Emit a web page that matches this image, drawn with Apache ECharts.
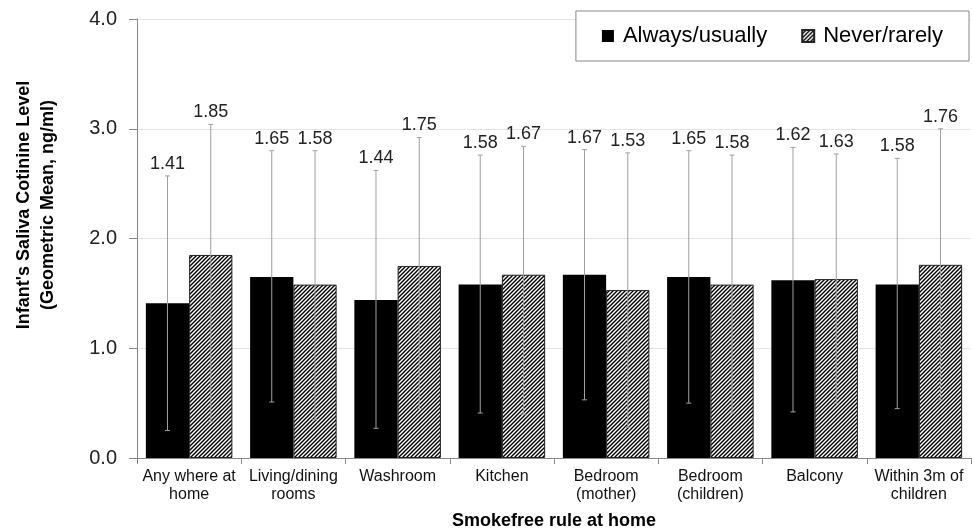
<!DOCTYPE html>
<html>
<head>
<meta charset="utf-8">
<script src="https://cdn.jsdelivr.net/npm/echarts@6/dist/echarts.min.js"></script>
<style>
html,body{margin:0;padding:0;background:#fff;}
#chart{width:972px;height:531px;}
</style>
</head>
<body>
<div id="chart"></div>
<script>
var categories = ['Any where at\nhome', 'Living/dining\nrooms', 'Washroom', 'Kitchen', 'Bedroom\n(mother)', 'Bedroom\n(children)', 'Balcony', 'Within 3m of\nchildren'];
var alwaysMean  = [1.41, 1.65, 1.44, 1.58, 1.67, 1.65, 1.62, 1.58];
var alwaysUpper = [2.57, 2.80, 2.62, 2.76, 2.81, 2.80, 2.83, 2.73];
var alwaysLower = [0.25, 0.51, 0.27, 0.41, 0.53, 0.50, 0.42, 0.45];
var neverMean   = [1.85, 1.58, 1.75, 1.67, 1.53, 1.58, 1.63, 1.76];
var neverUpper  = [3.04, 2.80, 2.92, 2.84, 2.78, 2.76, 2.77, 3.00];
var neverLower  = [0.33, 0.35, 0.45, 0.40, 0.28, 0.41, 0.50, 0.53];
var yTicks = [0, 1, 2, 3, 4];

var FONT = '"Liberation Sans", Arial, sans-serif';

function makeHatch() {
  var s = 4;
  var c = document.createElement('canvas');
  c.width = s; c.height = s;
  var ctx = c.getContext('2d');
  ctx.fillStyle = '#fff';
  ctx.fillRect(0, 0, s, s);
  ctx.strokeStyle = '#000';
  ctx.lineWidth = 1.4;
  ctx.beginPath();
  ctx.moveTo(-1, s + 1); ctx.lineTo(s + 1, -1);
  ctx.moveTo(-1, 1); ctx.lineTo(1, -1);
  ctx.moveTo(s - 1, s + 1); ctx.lineTo(s + 1, s - 1);
  ctx.stroke();
  return c;
}
var hatch = { image: makeHatch(), repeat: 'repeat' };

var GAP = 0.17;

function errData(means, up, lo) {
  return means.map(function (m, i) { return [i, m, up[i], lo[i]]; });
}

function makeErr(side) {
  return function (params, api) {
    var idx = api.value(0);
    var band = api.size([1, 0])[0];
    var bw = band * (1 - GAP) / 2;
    var c = api.coord([idx, api.value(1)]);
    var x = c[0] + side * bw / 2;
    var yTop = api.coord([idx, api.value(2)])[1];
    var yBot = api.coord([idx, api.value(3)])[1];
    var cap = 2.5;
    var st = { stroke: '#a0a0a0', lineWidth: 1 };
    return {
      type: 'group',
      children: [
        { type: 'line', shape: { x1: x, y1: yTop, x2: x, y2: yBot }, style: st },
        { type: 'line', shape: { x1: x - cap, y1: yTop, x2: x + cap, y2: yTop }, style: st },
        { type: 'line', shape: { x1: x - cap, y1: yBot, x2: x + cap, y2: yBot }, style: st },
        { type: 'text', style: { text: api.value(1).toFixed(2), x: x, y: yTop - 12, textAlign: 'center', textVerticalAlign: 'middle', font: '18px ' + FONT, fill: '#222' } }
      ]
    };
  };
}

var chart = echarts.init(document.getElementById('chart'));
chart.setOption({
  animation: false,
  backgroundColor: '#fff',
  grid: { left: 137, right: 1, top: 19, bottom: 73, containLabel: false, outerBoundsMode: 'none' },
  legend: {
    data: ['Always/usually', 'Never/rarely'],
    right: 3, top: 11,
    padding: [14, 26, 14, 26],
    itemGap: 34,
    itemWidth: 12, itemHeight: 12,
    icon: 'rect',
    borderColor: '#888', borderWidth: 1,
    backgroundColor: '#fff',
    textStyle: { fontSize: 22, fontFamily: FONT, color: '#000', padding: [0, 0, 0, 4] },
    z: 10
  },
  xAxis: {
    type: 'category',
    data: categories,
    name: 'Smokefree rule at home',
    nameLocation: 'middle',
    nameGap: 54,
    nameTextStyle: { fontSize: 18, fontWeight: 'bold', fontFamily: FONT, color: '#000' },
    axisLine: { lineStyle: { color: '#888' } },
    axisTick: { show: true, length: 6, lineStyle: { color: '#888' } },
    axisLabel: { interval: 0, fontSize: 16, lineHeight: 18, fontFamily: FONT, color: '#111', margin: 10 }
  },
  yAxis: {
    type: 'value',
    min: 0, max: 4, interval: 1,
    axisLine: { show: true, lineStyle: { color: '#888' } },
    axisTick: { show: true, length: 8, lineStyle: { color: '#888' } },
    axisLabel: { fontSize: 20, fontFamily: FONT, color: '#222', margin: 20,
      formatter: function (v) { return yTicks.indexOf(v) >= 0 ? v.toFixed(1) : ''; } },
    splitLine: { lineStyle: { color: '#e4e4e4' } }
  },
  graphic: [{
    type: 'text',
    x: 36, y: 205,
    rotation: Math.PI / 2,
    style: {
      text: "Infant's Saliva Cotinine Level\n(Geometric Mean, ng/ml)",
      font: 'bold 18px ' + FONT,
      fill: '#000',
      textAlign: 'center',
      textVerticalAlign: 'middle',
      lineHeight: 24
    }
  }],
  series: [
    { name: 'Always/usually', type: 'bar', data: alwaysMean, barGap: '0%', barCategoryGap: (GAP * 100) + '%',
      itemStyle: { color: '#000' }, z: 2 },
    { name: 'Never/rarely', type: 'bar', data: neverMean,
      itemStyle: { color: hatch, borderColor: '#222', borderWidth: 1 }, z: 2 },
    { type: 'custom', renderItem: makeErr(-1), data: errData(alwaysMean, alwaysUpper, alwaysLower), z: 5 },
    { type: 'custom', renderItem: makeErr(1), data: errData(neverMean, neverUpper, neverLower), z: 5 }
  ]
});
</script>
</body>
</html>
